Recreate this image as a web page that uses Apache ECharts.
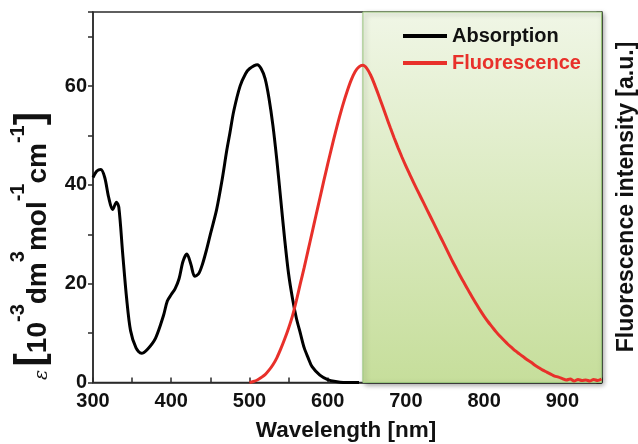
<!DOCTYPE html>
<html><head><meta charset="utf-8">
<script src="https://cdn.jsdelivr.net/npm/echarts@6/dist/echarts.min.js"></script>
<style>html,body{margin:0;padding:0;background:#fff}#c{width:638px;height:444px}</style>
</head><body><div id="c"></div>
<script>
var absorption = [[300,41.5],[305,42.8],[310,43.1],[315,41.5],[320,37.5],[325,35],[330,36.5],[333,35.5],[338,26],[343,17],[348,10.5],[355,7],[362,5.9],[370,6.8],[380,9],[390,13.5],[395,16.5],[400,17.8],[405,19],[410,21],[415,24.5],[420,26],[425,24],[430,21.5],[435,22],[440,24],[445,26.8],[450,30],[458,35],[465,41],[471,47],[475,50.5],[480,55],[488,60],[495,62.5],[500,63.5],[510,64.3],[515,63.5],[520,61.5],[525,57.5],[530,52],[535,45],[540,37],[545,29],[550,22],[555,17],[560,13],[565,10],[570,7],[575,5],[580,3.2],[590,1.5],[600,0.6],[610,0.2],[620,0],[640,0]];
var fluorescence = [[500,0],[505,0.2],[510,0.5],[515,1],[520,1.6],[525,2.5],[530,3.6],[535,5],[540,6.8],[545,8.8],[550,11],[555,13.5],[560,16.6],[565,20],[570,23.3],[575,26.8],[580,30.3],[585,33.8],[590,37.3],[595,40.8],[600,44.2],[605,47.5],[610,50.7],[615,53.7],[620,56.5],[625,59],[630,61.2],[635,62.9],[640,63.9],[645,64.2],[650,63.6],[655,62.2],[660,60.3],[665,58.2],[670,56],[675,53.8],[680,51.6],[685,49.5],[690,47.5],[695,45.6],[700,43.8],[705,42.1],[710,40.4],[715,38.8],[720,37.2],[725,35.6],[730,34],[735,32.4],[740,30.8],[745,29.2],[750,27.6],[755,26],[760,24.4],[765,22.9],[770,21.4],[775,20],[780,18.6],[785,17.2],[790,15.9],[795,14.6],[800,13.4],[805,12.3],[810,11.3],[815,10.3],[820,9.4],[825,8.6],[830,7.8],[835,7.1],[840,6.4],[845,5.8],[850,5.2],[855,4.6],[860,4.1],[865,3.5],[870,3],[875,2.5],[880,2.1],[885,1.7],[890,1.3],[895,1.1],[900,0.8],[905,0.5],[910,0.7],[915,0.3],[920,0.6],[925,0.4],[930,0.5],[935,0.3],[940,0.6],[945,0.4],[950,0.7]];
var windowRange = [645, 950];
var xTickLabels = [300,400,500,600,700,800,900];
var yTickLabels = [0,20,40,60];

var chart = echarts.init(document.getElementById('c'));
var F = '"Liberation Sans", Arial, sans-serif';
chart.setOption({
  animation: false,
  grid: {left: 93, right: 36.5, top: 12, bottom: 61.5, show: true, borderColor: '#2b2b2b', borderWidth: 1.5},
  legend: {
    orient: 'vertical', left: 398, top: 21, itemWidth: 44, itemHeight: 4, itemGap: 7, icon: 'rect',
    textStyle: {fontFamily: F, fontWeight: 'bold', fontSize: 20},
    data: [{name: 'Absorption', textStyle: {color: '#111'}}, {name: 'Fluorescence', textStyle: {color: '#e8302a'}}]
  },
  xAxis: {
    type: 'value', min: 300, max: 950, interval: 50,
    axisLine: {lineStyle: {color: '#2b2b2b', width: 1.5}},
    axisTick: {inside: true, length: 5, lineStyle: {color: '#2b2b2b', width: 1.5}},
    splitLine: {show: false},
    axisLabel: {fontFamily: F, fontWeight: 'bold', fontSize: 20, color: '#111', margin: 9,
      formatter: function (v) { return xTickLabels.indexOf(v) >= 0 ? String(v) : ''; }}
  },
  yAxis: [{
    type: 'value', min: 0, max: 75, interval: 10,
    axisLine: {show: true, lineStyle: {color: '#2b2b2b', width: 1.5}},
    axisTick: {show: true, length: 5, lineStyle: {color: '#2b2b2b', width: 1.5}},
    splitLine: {show: false},
    axisLabel: {fontFamily: F, fontWeight: 'bold', fontSize: 20, color: '#111', margin: 6,
      formatter: function (v) { return yTickLabels.indexOf(v) >= 0 ? String(v) : ''; }}
  }, {
    type: 'value', min: 0, max: 75, interval: 10, position: 'right',
    axisLine: {show: true, lineStyle: {color: '#3a4a30', width: 1.5}},
    axisTick: {show: true, inside: true, length: 5, lineStyle: {color: '#2b2b2b', width: 1.5}},
    splitLine: {show: false}, axisLabel: {show: false}
  }],
  series: [{
    name: 'Absorption', type: 'line', data: absorption, showSymbol: false, smooth: 0.3,
    lineStyle: {color: '#000', width: 3}, itemStyle: {color: '#000'}, z: 3,
    markArea: {
      silent: true,
      itemStyle: {
        color: new echarts.graphic.LinearGradient(0, 0, 0, 1, [{offset: 0, color: '#f0f6e6'}, {offset: 1, color: '#c6de9b'}]),
        borderColor: '#98c47a', borderWidth: 1,
        shadowBlur: 5, shadowColor: 'rgba(0,0,0,0.35)', shadowOffsetX: 2, shadowOffsetY: 2
      },
      data: [[{xAxis: windowRange[0]}, {xAxis: windowRange[1]}]]
    }
  }, {
    name: 'Fluorescence', type: 'line', yAxisIndex: 1, data: fluorescence, showSymbol: false, smooth: 0.3,
    lineStyle: {color: '#e8302a', width: 3}, itemStyle: {color: '#e8302a'}, z: 4
  }],
  graphic: [{
    type: 'text', x: 346, y: 431,
    style: {text: 'Wavelength [nm]', font: 'bold 22.5px ' + F, fill: '#111', textAlign: 'center', textVerticalAlign: 'middle'}
  }, {
    type: 'text', x: 627, y: 197, rotation: Math.PI / 2,
    style: {text: 'Fluorescence intensity [a.u.]', font: 'bold 23px ' + F, fill: '#111', textAlign: 'center', textVerticalAlign: 'middle'}
  }, {
    type: 'text', x: 500, y: 168,
    style: {text: 'Tissue optical window', font: 'bold 16px ' + F, fill: '#22a84c', textAlign: 'center', textVerticalAlign: 'middle'}
  }, {
    type: 'text', x: 30, y: 246, rotation: Math.PI / 2,
    style: {
      text: '{e|ε} {b|[}{n|10}{s|-3}{n|dm}{s|3}{n|mol}{s|-1}{n|cm}{s|-1}{b|]}',
      textAlign: 'center', textVerticalAlign: 'middle',
      rich: {
        e: {font: 'italic 19px "DejaVu Serif", serif', fill: '#111', verticalAlign: 'bottom', lineHeight: 44},
        b: {font: 'bold 40px ' + F, fill: '#111', verticalAlign: 'bottom', lineHeight: 44},
        n: {font: 'bold 28px ' + F, fill: '#111', verticalAlign: 'bottom', lineHeight: 44},
        s: {font: 'bold 20px ' + F, fill: '#111', verticalAlign: 'top', lineHeight: 44}
      }
    }
  }]
});
</script></body></html>
